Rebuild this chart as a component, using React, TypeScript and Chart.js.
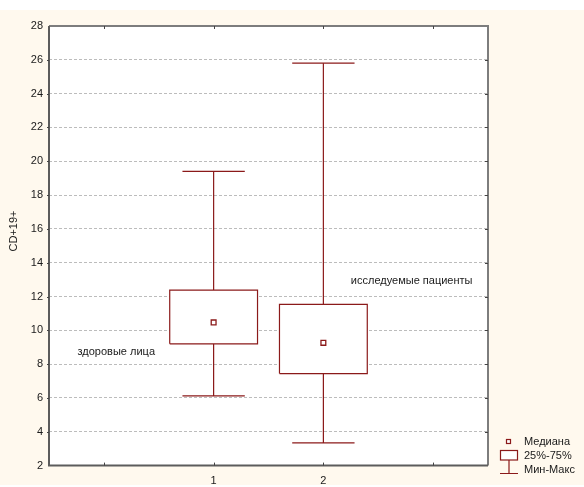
import React, { useEffect, useRef } from 'react';
import { Chart, registerables } from 'chart.js';

Chart.register(...registerables);

// ---- data ----
const categories = ['1', '2'];
const categoryPositions = [1, 2];
const maxValues = [19.4, 25.8];
const q3Values = [12.38, 11.53];
const medianValues = [10.47, 9.26];
const q1Values = [9.2, 7.44];
const minValues = [6.12, 3.34];
const groupNames = ['здоровые лица', 'исследуемые пациенты'];
const groupNameX = [-0.24, 2.25];
const groupNameY = [8.73, 12.94];
const yMin = 2;
const yMax = 28;
const yStep = 2;
const xMin = -0.5;
const xMax = 3.5;
const yTitle = 'CD+19+';
const legendItems = ['Медиана', '25%-75%', 'Мин-Макс'];

const RED = '#8b1a1a';
const FONT = "'Liberation Sans', Arial, sans-serif";

export default function App() {
  const ref = useRef<HTMLCanvasElement>(null);

  useEffect(() => {
    if (!ref.current) return;
    const BOX_HALF = 0.4;
    const CAP_HALF = 0.284;
    const datasets: any[] = [];
    const base = { borderColor: RED, borderWidth: 1.2, pointRadius: 0, tension: 0, fill: false };
    categoryPositions.forEach((c, i) => {
      datasets.push({
        ...base,
        data: [
          { x: c - BOX_HALF, y: q1Values[i] },
          { x: c + BOX_HALF, y: q1Values[i] },
          { x: c + BOX_HALF, y: q3Values[i] },
          { x: c - BOX_HALF, y: q3Values[i] },
          { x: c - BOX_HALF, y: q1Values[i] },
        ],
        fill: 'shape',
        backgroundColor: '#ffffff',
      });
      datasets.push({ ...base, data: [{ x: c, y: q3Values[i] }, { x: c, y: maxValues[i] }] });
      datasets.push({ ...base, data: [{ x: c, y: q1Values[i] }, { x: c, y: minValues[i] }] });
      datasets.push({ ...base, data: [{ x: c - CAP_HALF, y: maxValues[i] }, { x: c + CAP_HALF, y: maxValues[i] }] });
      datasets.push({ ...base, data: [{ x: c - CAP_HALF, y: minValues[i] }, { x: c + CAP_HALF, y: minValues[i] }] });
    });
    datasets.unshift({
      data: categoryPositions.map((c, i) => ({ x: c, y: medianValues[i] })),
      showLine: false,
      pointStyle: 'rect',
      pointRadius: 3.4,
      pointBackgroundColor: '#ffffff',
      pointBorderColor: RED,
      pointBorderWidth: 1.3,
      borderColor: RED,
    });

    const bgPlugin = {
      id: 'bg',
      beforeDraw(chart: any) {
        const { ctx, chartArea: a } = chart;
        ctx.save();
        ctx.fillStyle = '#ffffff';
        ctx.fillRect(a.left, a.top, a.right - a.left, a.bottom - a.top);
        ctx.restore();
      },
    };

    const framePlugin = {
      id: 'frame',
      afterDraw(chart: any) {
        const { ctx, chartArea: a, scales } = chart;
        const xs = scales.x;
        const ys = scales.y;
        ctx.save();
        // frame
        ctx.lineWidth = 2;
        ctx.strokeStyle = '#7d7d7d';
        ctx.beginPath();
        ctx.moveTo(a.left, a.top);
        ctx.lineTo(a.right, a.top);
        ctx.lineTo(a.right, a.bottom);
        ctx.stroke();
        ctx.strokeStyle = '#5c5c5c';
        ctx.beginPath();
        ctx.moveTo(a.left, a.top);
        ctx.lineTo(a.left, a.bottom);
        ctx.lineTo(a.right, a.bottom);
        ctx.stroke();
        // ticks
        ctx.lineWidth = 1;
        ctx.strokeStyle = '#444';
        for (let v = 0; v <= 3; v++) {
          const px = Math.round(xs.getPixelForValue(v)) + 0.5;
          ctx.beginPath();
          ctx.moveTo(px, a.top);
          ctx.lineTo(px, a.top + 3);
          ctx.moveTo(px, a.bottom);
          ctx.lineTo(px, a.bottom - 3);
          ctx.stroke();
        }
        for (let v = yMin + yStep; v < yMax; v += yStep) {
          const py = Math.round(ys.getPixelForValue(v)) + 0.5;
          ctx.beginPath();
          ctx.moveTo(a.right, py);
          ctx.lineTo(a.right - 3, py);
          ctx.moveTo(a.left, py);
          ctx.lineTo(a.left - 2, py);
          ctx.stroke();
        }
        // group names
        ctx.fillStyle = '#1a1a1a';
        ctx.font = `11px ${FONT}`;
        ctx.textBaseline = 'middle';
        ctx.textAlign = 'left';
        groupNames.forEach((t, i) => {
          ctx.fillText(t, xs.getPixelForValue(groupNameX[i]), ys.getPixelForValue(groupNameY[i]));
        });
        // y title
        ctx.save();
        ctx.translate(13.5, 231);
        ctx.rotate(-Math.PI / 2);
        ctx.textAlign = 'center';
        ctx.fillText(yTitle, 0, 0);
        ctx.restore();
        // legend
        const lx = 524;
        const rows = [441.5, 456, 470];
        ctx.textAlign = 'left';
        legendItems.forEach((t, i) => ctx.fillText(t, lx, rows[i]));
        ctx.strokeStyle = RED;
        ctx.lineWidth = 1.2;
        ctx.fillStyle = '#fff';
        ctx.fillRect(506.5, 439.5, 4, 4);
        ctx.strokeRect(506.5, 439.5, 4, 4);
        ctx.fillRect(500.5, 450.5, 17, 9.5);
        ctx.strokeRect(500.5, 450.5, 17, 9.5);
        ctx.beginPath();
        ctx.moveTo(509, 460);
        ctx.lineTo(509, 473.5);
        ctx.moveTo(500, 473.5);
        ctx.lineTo(518, 473.5);
        ctx.stroke();
        ctx.restore();
      },
    };

    const chart = new Chart(ref.current, {
      type: 'line',
      data: { datasets },
      plugins: [bgPlugin, framePlugin],
      options: {
        responsive: false,
        animation: false,
        maintainAspectRatio: false,
        layout: { padding: { left: 0, top: 26, right: 96, bottom: 0 } },
        plugins: { legend: { display: false }, tooltip: { enabled: false }, title: { display: false } },
        elements: { line: { borderCapStyle: 'butt' } },
        scales: {
          x: {
            type: 'linear',
            min: xMin,
            max: xMax,
            afterBuildTicks(scale: any) {
              scale.ticks = [0, 1, 2, 3].map((v) => ({ value: v }));
            },
            afterFit(scale: any) {
              scale.height = 21.4;
            },
            ticks: {
              autoSkip: false,
              maxRotation: 0,
              padding: 9,
              color: '#1a1a1a',
              font: { family: FONT, size: 11 },
              callback: (v: any) => {
                const idx = categoryPositions.indexOf(Number(v));
                return idx >= 0 ? categories[idx] : '';
              },
            },
            grid: { display: false, drawTicks: false },
            border: { display: false },
          },
          y: {
            type: 'linear',
            min: yMin,
            max: yMax,
            afterFit(scale: any) {
              scale.width = 49;
            },
            ticks: {
              stepSize: yStep,
              padding: 6,
              color: '#1a1a1a',
              font: { family: FONT, size: 11 },
            },
            grid: { color: '#bcbcbc', drawTicks: false, lineWidth: 1 },
            border: { display: false, dash: [3, 2] },
          },
        },
      },
    });
    return () => chart.destroy();
  }, []);

  return (
    <div style={{ position: 'absolute', left: 0, top: 0, width: 584, height: 487, background: '#ffffff', overflow: 'hidden' }}>
      <div style={{ position: 'absolute', left: 0, top: 10, width: 584, height: 475, background: '#fff9ee' }} />
      <canvas ref={ref} width={584} height={487} style={{ position: 'absolute', left: 0, top: 0, width: 584, height: 487 }} />
    </div>
  );
}
